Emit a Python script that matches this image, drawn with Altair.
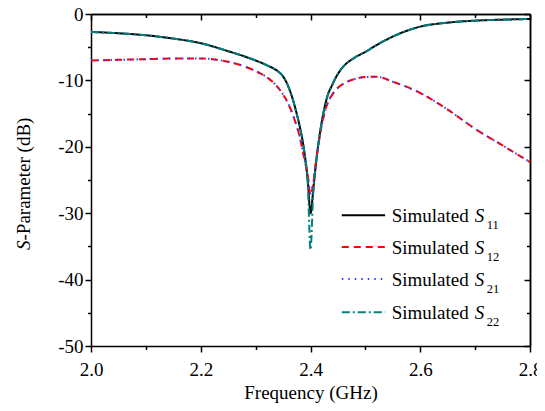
import altair as alt
import pandas as pd

# ---------------- data ----------------
freq = [2.00, 2.05, 2.10, 2.15, 2.20, 2.25, 2.28, 2.30, 2.32, 2.34, 2.35, 2.36,
        2.37, 2.38, 2.385, 2.39, 2.395, 2.40, 2.405, 2.41, 2.415, 2.42, 2.43,
        2.44, 2.45, 2.46, 2.48, 2.50, 2.52, 2.55, 2.60, 2.65, 2.70, 2.75, 2.80]

s11 = [-2.7, -2.9, -3.2, -3.7, -4.4, -5.6, -6.4, -7.0, -7.7, -8.6, -9.4, -11.0,
       -13.5, -16.8, -18.8, -21.5, -25.0, -30.0, -26.5, -22.5, -19.2, -16.5, -12.6,
       -10.6, -9.0, -7.9, -6.6, -5.7, -4.7, -3.4, -1.9, -1.3, -1.0, -0.85, -0.75]

s12 = [-7.0, -6.9, -6.8, -6.7, -6.7, -7.2, -7.9, -8.6, -9.5, -11.0, -12.1, -13.6,
       -15.7, -18.4, -20.3, -22.3, -24.4, -27.3, -25.5, -22.2, -19.4, -17.0, -13.7,
       -12.1, -11.1, -10.5, -9.8, -9.5, -9.45, -10.2, -11.9, -14.4, -17.3, -19.8, -22.3]

s21 = [-7.0, -6.9, -6.8, -6.7, -6.7, -7.2, -7.9, -8.6, -9.5, -11.0, -12.1, -13.6,
       -15.7, -18.4, -20.3, -22.3, -24.4, -27.0, -25.5, -22.2, -19.4, -17.0, -13.7,
       -12.1, -11.1, -10.5, -9.8, -9.5, -9.45, -10.2, -11.9, -14.4, -17.3, -19.8, -22.3]

s22 = [-2.7, -2.9, -3.2, -3.7, -4.4, -5.6, -6.4, -7.0, -7.7, -8.6, -9.4, -11.0,
       -13.5, -16.8, -18.8, -21.5, -25.5, -35.5, -27.0, -22.5, -19.2, -16.5, -12.6,
       -10.6, -9.0, -7.9, -6.6, -5.7, -4.7, -3.4, -1.9, -1.3, -1.0, -0.85, -0.75]

series_values = [s11, s12, s21, s22]
legend_subs = ["11", "12", "21", "22"]
legend_word = "Simulated"
x_title = "Frequency (GHz)"
y_title_parts = ["S", "-Parameter (dB)"]
x_ticks = [2.0, 2.1, 2.2, 2.3, 2.4, 2.5, 2.6, 2.7, 2.8]
x_major = [2.0, 2.2, 2.4, 2.6, 2.8]
x_minor = [2.1, 2.3, 2.5, 2.7]
y_ticks = [-50, -45, -40, -35, -30, -25, -20, -15, -10, -5, 0]
y_major = [-50, -40, -30, -20, -10, 0]
y_minor = [-45, -35, -25, -15, -5]

# ---------------- styles ----------------
FONT = "Liberation Serif"
colors = ["#000000", "#ff0000", "#3c3cff", "#008080"]
dashes = [[1, 0], [7, 5], [1.5, 5], [8, 3, 2, 3]]
widths = [2, 2, 2, 2]
W, H = 439, 332
MAJ, MIN = 6, 3.5

legend_rows_y = [-30.3, -35.1, -39.9, -44.9]
legend_x1, legend_x2, legend_tx = 2.457, 2.536, 2.548

XMAJ = "round(datum.value*10) % 2 == 0"
YMAJ = "datum.value % 10 == 0"

xscale = alt.Scale(domain=[2.0, 2.8], nice=False, zero=False)
yscale = alt.Scale(domain=[-50, 0], nice=False, zero=False)

common_axis = dict(domainColor="black", domainWidth=1.5, tickColor="black",
                   tickWidth=1.5, grid=False, labelFont=FONT, labelFontSize=19,
                   labelColor="black", titleFont=FONT, titleFontSize=19,
                   titleFontWeight="normal", titleColor="black")

ax_bottom = alt.Axis(orient="bottom", values=x_ticks, title=x_title,
                     labelExpr=f"{XMAJ} ? format(datum.value, '.1f') : ''",
                     tickSize={"condition": {"test": XMAJ, "value": MAJ}, "value": MIN},
                     labelPadding=8, titleBaseline="alphabetic", titleY=52,
                     labelFlush=False, labelOverlap=False, **common_axis)
ax_left = alt.Axis(orient="left", values=y_ticks, title=None,
                   labelExpr=f"{YMAJ} ? (datum.value < 0 ? '-' + (-datum.value) : '' + datum.value) : ''",
                   tickSize={"condition": {"test": YMAJ, "value": MAJ}, "value": MIN},
                   labelPadding=2, labelFlush=False, labelOverlap=False, **common_axis)
ax_top_major = alt.Axis(orient="top", values=x_major, title=None, labels=False,
                        tickSize={"expr": f"-{MAJ}"}, **common_axis)
ax_right_major = alt.Axis(orient="right", values=y_major, title=None, labels=False,
                          tickSize={"expr": f"-{MAJ}"}, **common_axis)
ax_top_minor = alt.Axis(orient="top", values=x_minor, title=None, labels=False,
                        tickSize={"expr": f"-{MIN}"}, **common_axis)
ax_right_minor = alt.Axis(orient="right", values=y_minor, title=None, labels=False,
                          tickSize={"expr": f"-{MIN}"}, **common_axis)

axes_for_layer = [(ax_bottom, ax_left), (ax_top_major, ax_right_major),
                  (ax_top_minor, ax_right_minor), (None, None)]

layers = []
for i, vals in enumerate(series_values):
    df = pd.DataFrame({"f": freq, "v": vals})
    xa, ya = axes_for_layer[i]
    line = alt.Chart(df).mark_line(
        color=colors[i], strokeDash=dashes[i], strokeWidth=widths[i],
        interpolate="monotone", clip=True
    ).encode(
        x=alt.X("f:Q", scale=xscale, axis=xa),
        y=alt.Y("v:Q", scale=yscale, axis=ya),
    )
    layers.append(line)

# ---------------- legend ----------------
for i in range(4):
    ldf = pd.DataFrame({"x1": [legend_x1], "x2": [legend_x2], "y": [legend_rows_y[i]],
                        "tx": [legend_tx], "word": [legend_word], "s": ["S"],
                        "sub": [legend_subs[i]]})
    layers.append(alt.Chart(ldf).mark_rule(
        color=colors[i], strokeDash=dashes[i], strokeWidth=widths[i]
    ).encode(x=alt.X("x1:Q", scale=xscale, axis=None), x2="x2:Q",
             y=alt.Y("y:Q", scale=yscale, axis=None)))
    layers.append(alt.Chart(ldf).mark_text(
        font=FONT, fontSize=19, color="black", align="left", baseline="alphabetic", dy=7
    ).encode(x=alt.X("tx:Q", scale=xscale, axis=None),
             y=alt.Y("y:Q", scale=yscale, axis=None), text="word:N"))
    layers.append(alt.Chart(ldf).mark_text(
        font=FONT, fontSize=19, fontStyle="italic", color="black", align="left",
        baseline="alphabetic", dy=7, dx=83
    ).encode(x=alt.X("tx:Q", scale=xscale, axis=None),
             y=alt.Y("y:Q", scale=yscale, axis=None), text="s:N"))
    layers.append(alt.Chart(ldf).mark_text(
        font=FONT, fontSize=12.5, color="black", align="left",
        baseline="alphabetic", dy=14, dx=95
    ).encode(x=alt.X("tx:Q", scale=xscale, axis=None),
             y=alt.Y("y:Q", scale=yscale, axis=None), text="sub:N"))

# ---------------- y title (italic S) ----------------
tdf = pd.DataFrame({"a": [y_title_parts[0]], "b": [y_title_parts[1]]})
layers.append(alt.Chart(tdf).mark_text(
    font=FONT, fontSize=19, fontStyle="italic", color="black", angle=270,
    align="left", baseline="alphabetic"
).encode(x=alt.value(-61), y=alt.value(236), text="a:N"))
layers.append(alt.Chart(tdf).mark_text(
    font=FONT, fontSize=19, color="black", angle=270,
    align="left", baseline="alphabetic"
).encode(x=alt.value(-61), y=alt.value(226.5), text="b:N"))

chart = alt.layer(*layers).resolve_axis(x="independent", y="independent").properties(
    width=W, height=H,
    autosize=alt.AutoSizeParams(type="none"),
    padding={"left": 83, "top": 6, "right": 7, "bottom": 57},
    background="white",
).configure_view(stroke=None)

chart.save("out.html", embed_options={"renderer": "svg", "actions": False})
